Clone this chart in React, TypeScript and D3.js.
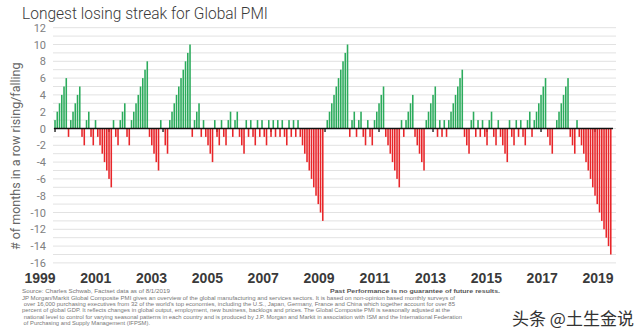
import React from "react";
import * as d3 from "d3";

// Monthly streak of consecutive rising (+) / falling (-) Global PMI months, Jan 1999 – Aug 2019
const streak1999_2002: number[] = [
  1, 2, 3, 4, 5, 6, -1, 1, 2, 3, 4, 5,
  -1, -2, 1, 2, -1, -2, 1, -1, -2, -3, -4, -5,
  -6, -7, 1, -1, -2, 1, 2, 3, -1, -2, 1, 2,
  3, 4, 5, 6, 7, 8, -1, -2, -3, -4, -5, 1,
];
const streak2003_2006: number[] = [
  0, -2, -3, 1, 2, 3, 4, 5, 6, 7, 8, 9,
  10, -1, 1, 2, 3, -1, 1, -1, -2, -3, -4, 1,
  -1, -2, 1, -1, -2, 1, 2, -1, 1, 2, -1, -2,
  -3, 1, -1, 1, -1, -2, 1, -1, 1, -1, -2, 1,
];
const streak2007_2010: number[] = [
  -1, 1, -1, 1, -1, 1, -1, -2, 1, -1, 1, -1,
  1, -1, -2, -3, -4, -5, -6, -7, -8, -9, -10, -11,
  0, 1, 2, 3, 4, 5, 6, 7, 8, 9, 10, -1,
  1, 2, -1, 1, 2, -1, -2, 1, -1, -2, 1, 2,
];
const streak2011_2014: number[] = [
  3, 4, 5, -1, -2, -3, -4, -5, -6, -7, 1, -1,
  1, 2, 3, 4, -1, -2, -3, -4, -5, 1, 2, 3,
  4, 5, -1, 1, -1, 1, -1, 1, 2, 3, 4, 5,
  6, 7, -1, -2, -3, 1, 2, -1, 1, -1, 1, -1,
];
const streak2015_2019: number[] = [
  -2, 1, 2, -1, -2, 1, -1, -2, -3, -4, 1, -1,
  -2, 1, -1, 1, -1, -2, 1, 2, -1, 1, 2, 3,
  4, 5, 6, -1, -2, -3, 0, 1, 2, 3, 4, 5,
  6, -1, -2, -3, 1, -1, -2, -3, -4, -5, -6, -7,
  -8, -9, -10, -11, -12, -13, -14, -15,
];
const streak: number[] = [
  ...streak1999_2002,
  ...streak2003_2006,
  ...streak2007_2010,
  ...streak2011_2014,
  ...streak2015_2019,
];
const startYear = 1999;
const yearLabels: string[] = ["1999", "2001", "2003", "2005", "2007", "2009", "2011", "2013", "2015", "2017", "2019"];
const yTickValues: number[] = [12, 10, 8, 6, 4, 2, 0, -2, -4, -6, -8, -10, -12, -14, -16];

const title = "Longest losing streak for Global PMI";
const yTitle = "# of months in a row rising/falling";
const footLeft = "Source: Charles Schwab, Factset data as of 8/1/2019";
const footRight = "Past Performance is no guarantee of future results.";
const footLines: string[] = [
  "JP Morgan/Markit Global Composite PMI gives an overview of the global manufacturing and services sectors. It is based on non-opinion based monthly surveys of",
  " over 16,000 purchasing executives from 32 of the world's top economies, including the U.S., Japan, Germany, France and China which together account for over 85",
  "percent of global GDP. It reflects changes in global output, employment, new business, backlogs and prices. The Global Composite PMI is seasonally adjusted at the",
  " national level to control for varying seasonal patterns in each country and is produced by J.P. Morgan and Markit in association with ISM and the International Federation",
  " of Purchasing and Supply Management (IFPSM).",
];
const footWidths: number[] = [433, 433, 428, 440, 128];
const watermark = "头条 @土生金说";

export default function App() {
  const W = 640;
  const H = 334;
  const idx = streak.map((_, i) => i);
  const x = d3.scaleBand<number>().domain(idx).range([53.9, 611.9]).paddingInner(0.3).paddingOuter(0.15);
  const y = d3.scaleLinear().domain([-16, 12]).range([262.9, 27.7]);
  // year labels are spread along the full axis width in the reference
  const xLabel = d3.scalePoint<string>().domain(yearLabels).range([40, 598]);
  const gridVals = d3.range(-16, 13, 1);
  const bw = x.bandwidth();
  const cx = (i: number) => (x(i) as number) + bw / 2;
  const green = "#2cab5c";
  const red = "#e8262a";

  return (
    <svg width={W} height={H} style={{ position: "absolute", left: 0, top: 0, background: "#fff" }}>
      <rect width={W} height={H} fill="#fff" />
      <text x={22} y={19} fontFamily="Roboto, sans-serif" fontWeight={300} fontSize={17} fill="#3a3a3a" textLength={246} lengthAdjust="spacingAndGlyphs">
        {title}
      </text>
      {gridVals.map((v) => (
        <line key={v} x1={53} x2={616} y1={y(v)} y2={y(v)} stroke="#e2e2e2" strokeWidth={1} />
      ))}
      {yTickValues.map((v) => (
        <text key={v} x={46} y={y(v) + 4} textAnchor="end" fontFamily="Roboto, sans-serif" fontSize={11} fill="#808080">
          {v}
        </text>
      ))}
      <text
        transform={`translate(20,${(y(12) + y(-16)) / 2 + 11}) rotate(-90)`}
        textAnchor="middle"
        fontFamily="Roboto, sans-serif"
        fontSize={12.5}
        fill="#666"
      >
        {yTitle}
      </text>
      {yearLabels.map((lab) => {
        const i = (+lab - startYear) * 12;
        return <line key={"t" + lab} x1={cx(i)} x2={cx(i)} y1={y(0)} y2={y(0) + 3.5} stroke="#000" strokeWidth={1.2} />;
      })}
      {streak.map((v, i) =>
        v === 0 ? null : (
          <rect
            key={i}
            x={x(i)}
            width={bw}
            y={v > 0 ? y(v) : y(0)}
            height={Math.abs(y(v) - y(0))}
            fill={v > 0 ? green : red}
          />
        )
      )}
      <line x1={54} x2={613} y1={y(0)} y2={y(0)} stroke="#111" strokeWidth={1.3} />
      {yearLabels.map((lab) => (
        <text key={lab} x={xLabel(lab)} y={283} textAnchor="middle" fontFamily="'Liberation Sans', Arial, sans-serif" fontWeight="bold" fontSize={14} fill="#3a3a3a">
          {lab}
        </text>
      ))}
      <text x={22} y={293} fontFamily="'Liberation Sans', Arial, sans-serif" fontSize={5.8} fill="#777" textLength={148} lengthAdjust="spacingAndGlyphs">
        {footLeft}
      </text>
      <text x={330} y={293} fontFamily="'Liberation Sans', Arial, sans-serif" fontWeight="bold" fontSize={5.8} fill="#555" textLength={170} lengthAdjust="spacingAndGlyphs">
        {footRight}
      </text>
      {footLines.map((t, k) => (
        <text key={k} x={22} y={299.5 + k * 6.4} fontFamily="'Liberation Sans', Arial, sans-serif" fontSize={5.8} fill="#777" textLength={footWidths[k]} lengthAdjust="spacingAndGlyphs" style={{ whiteSpace: "pre" }}>
          {t}
        </text>
      ))}
      <text x={512} y={325} fontFamily="'Noto Sans CJK SC', sans-serif" fontSize={17} fill="#333">
        {watermark}
      </text>
    </svg>
  );
}
